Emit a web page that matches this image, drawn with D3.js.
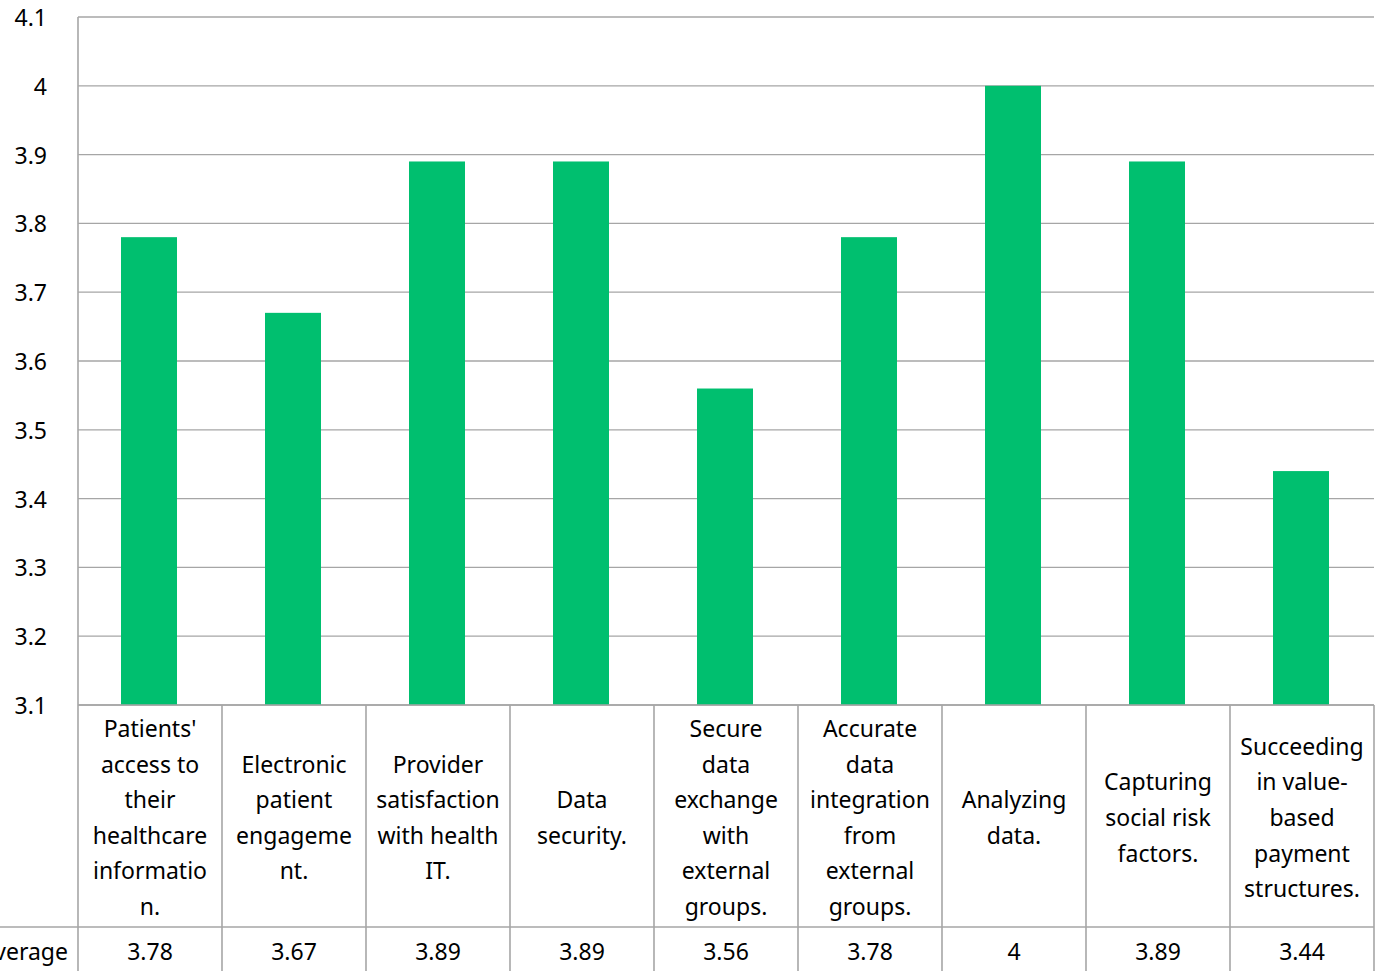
<!DOCTYPE html>
<html>
<head>
<meta charset="utf-8">
<script src="https://cdn.jsdelivr.net/npm/d3@7"></script>
<style>
  body { margin: 0; background: #fff; overflow: hidden; }
  svg { display: block; font-family: "Segoe UI", "Noto Sans", sans-serif; }
</style>
</head>
<body>
<div id="chart"></div>
<script>
// Category labels, already broken the way the table cells wrap them
const categories = [
    ["Patients'", "access to", "their", "healthcare", "informatio", "n."],
    ["Electronic", "patient", "engageme", "nt."],
    ["Provider", "satisfaction", "with health", "IT."],
    ["Data", "security."],
    ["Secure", "data", "exchange", "with", "external", "groups."],
    ["Accurate", "data", "integration", "from", "external", "groups."],
    ["Analyzing", "data."],
    ["Capturing", "social risk", "factors."],
    ["Succeeding", "in value-", "based", "payment", "structures."]
];
const averages = [3.78, 3.67, 3.89, 3.89, 3.56, 3.78, 4, 3.89, 3.44];
const seriesName = "Average";
const yTicks = [3.1, 3.2, 3.3, 3.4, 3.5, 3.6, 3.7, 3.8, 3.9, 4, 4.1];

const width = 1375, height = 971;
const plotLeft = 78, plotRight = 1374, plotTop = 17, plotBottom = 705;
const rowLine = 927;

const svg = d3.select("#chart")
    .append("svg")
    .attr("width", width)
    .attr("height", height);

const x = d3.scaleBand()
    .domain(d3.range(categories.length))
    .range([plotLeft, plotRight])
    .paddingInner(0)
    .paddingOuter(0);

const y = d3.scaleLinear()
    .domain([3.1, 4.1])
    .range([plotBottom, plotTop]);

// Gridlines
svg.append("g")
    .selectAll("line")
    .data(yTicks)
    .join("line")
    .attr("x1", plotLeft)
    .attr("x2", plotRight)
    .attr("y1", d => y(d))
    .attr("y2", d => y(d))
    .attr("stroke", "#a6a6a6")
    .attr("stroke-width", 1.3);

// Y axis labels
svg.append("g")
    .selectAll("text")
    .data(yTicks)
    .join("text")
    .attr("x", 47)
    .attr("y", d => y(d) + 1)
    .attr("dy", "0.35em")
    .attr("text-anchor", "end")
    .style("font-size", "23px")
    .style("fill", "#000")
    .text(d => d3.format("~g")(d));

// Bars
const barW = 56;
svg.append("g")
    .selectAll("rect")
    .data(averages)
    .join("rect")
    .attr("x", (d, i) => x(i) + x.bandwidth() / 2 - barW / 2 - 1)
    .attr("y", d => y(d))
    .attr("width", barW)
    .attr("height", d => y(3.1) - y(d))
    .attr("fill", "#00bf6f");

// Data table lines
const tbl = svg.append("g")
    .attr("stroke", "#a6a6a6")
    .attr("stroke-width", 1.6);

tbl.append("line")
    .attr("x1", plotLeft).attr("x2", plotLeft)
    .attr("y1", plotTop).attr("y2", height);

tbl.append("line")
    .attr("x1", plotLeft).attr("x2", plotRight)
    .attr("y1", plotBottom).attr("y2", plotBottom);

tbl.append("line")
    .attr("x1", 0).attr("x2", plotRight)
    .attr("y1", rowLine).attr("y2", rowLine);

tbl.selectAll("line.sep")
    .data(d3.range(1, categories.length + 1))
    .join("line")
    .attr("class", "sep")
    .attr("x1", i => i === categories.length ? plotRight : x(i))
    .attr("x2", i => i === categories.length ? plotRight : x(i))
    .attr("y1", plotBottom)
    .attr("y2", height);

// Category labels in header cells
const lineH = 35.6;
const cellMid = (plotBottom + rowLine) / 2 + 2;
svg.append("g")
    .selectAll("text")
    .data(categories)
    .join("text")
    .attr("text-anchor", "middle")
    .style("font-size", "23px")
    .style("fill", "#000")
    .each(function(lines, i) {
        const t = d3.select(this);
        const y0 = cellMid - (lines.length - 1) * lineH / 2;
        lines.forEach((ln, k) => {
            t.append("tspan")
                .attr("x", x(i) + x.bandwidth() / 2)
                .attr("y", y0 + k * lineH)
                .attr("dy", "0.35em")
                .text(ln);
        });
    });

// Values row
svg.append("g")
    .selectAll("text")
    .data(averages)
    .join("text")
    .attr("x", (d, i) => x(i) + x.bandwidth() / 2)
    .attr("y", 952)
    .attr("dy", "0.35em")
    .attr("text-anchor", "middle")
    .style("font-size", "23px")
    .style("fill", "#000")
    .text(d => d);

// Series name (cut at the left edge, as in the original)
svg.append("text")
    .attr("x", 68)
    .attr("y", 952)
    .attr("dy", "0.35em")
    .attr("text-anchor", "end")
    .style("font-size", "23px")
    .style("fill", "#000")
    .text(seriesName);
</script>
</body>
</html>
